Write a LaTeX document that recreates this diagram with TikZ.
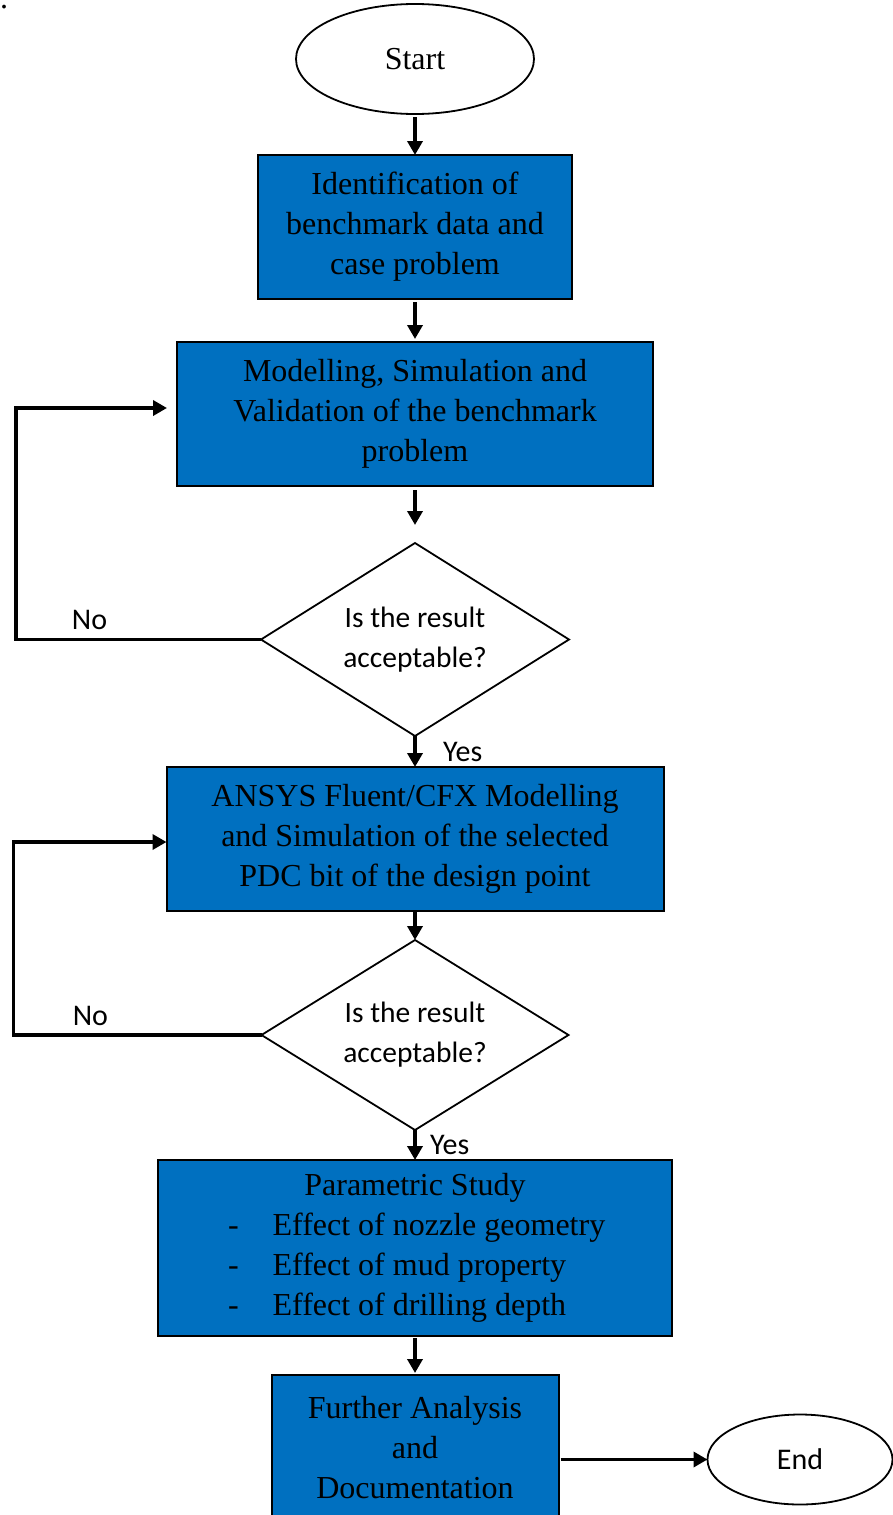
\documentclass[tikz,border=0pt]{standalone}
\usepackage{fontspec}
\setmainfont{Liberation Serif}
\newfontfamily\calibri{Carlito}
\usetikzlibrary{positioning,shapes.geometric,arrows.meta}
\definecolor{boxblue}{HTML}{0070C0}

\begin{document}
\begin{tikzpicture}[x=1pt,y=1pt,
    process/.style={draw=black, line width=2pt, fill=boxblue, align=center,
        inner sep=0pt, outer sep=0pt, font=\fontsize{32}{40}\selectfont},
    decision/.style={draw=black, line width=1.8pt, diamond, aspect=1.6, align=center,
        inner sep=0pt, outer sep=0pt, font=\calibri\fontsize{29.5}{40}\selectfont},
    terminal/.style={draw=black, line width=1.8pt, ellipse, inner sep=0pt, outer sep=0pt},
    flow/.style={line width=3.5pt, -{Triangle[width=15pt,length=14pt]}},
    answer/.style={font=\calibri\fontsize{30}{34}\selectfont}]

        \useasboundingbox (0,0) rectangle (892,-1515);

        % Define vertices
        \node[anchor=base west, inner sep=0pt, font=\fontsize{32}{40}\selectfont] (dot) at (0,-9) {.};
        \node[terminal, minimum width=238pt, minimum height=110pt, font=\fontsize{32}{40}\selectfont] (start) at (415,-59) {Start};
        \node[process, minimum width=314pt, minimum height=144pt, below=41pt of start] (ident) {Identification of\\benchmark data and\\case problem};
        \node[process, minimum width=476pt, minimum height=144pt, below=43pt of ident] (model) {Modelling, Simulation and\\Validation of the benchmark\\problem};
        \node[decision, minimum width=308pt, minimum height=193pt, below=57pt of model] (check1) {Is the result\\acceptable?};
        \node[process, minimum width=497pt, minimum height=144pt, below=31pt of check1] (ansys) {ANSYS Fluent/CFX Modelling\\and Simulation of the selected\\PDC bit of the design point};
        \node[decision, minimum width=307pt, minimum height=190pt, below=29pt of ansys] (check2) {Is the result\\acceptable?};
        \node[process, minimum width=514pt, minimum height=176pt, below=30pt of check2] (param) {Parametric Study\\
            \makebox[374pt][l]{-\hspace{34pt}Effect of nozzle geometry}\\
            \makebox[374pt][l]{-\hspace{34pt}Effect of mud property}\\
            \makebox[374pt][l]{-\hspace{34pt}Effect of drilling depth}};
        \node[process, minimum width=287pt, minimum height=145pt, below=39pt of param] (further) {Further Analysis\\and\\Documentation};
        \node[terminal, minimum width=185pt, minimum height=90pt, font=\calibri\fontsize{30}{36}\selectfont,
            right=149pt of further, yshift=-12pt] (end) {End};

        % Draw edges
        \draw[flow, shorten <=3pt] (start) -- (ident);
        \draw[flow, shorten <=3pt, shorten >=3pt] (ident) -- (model);
        \draw[flow, shorten <=4pt, shorten >=18pt] (model) -- (check1);
        \draw[flow] (check1) -- node[answer, right, xshift=23pt] {Yes} (ansys);
        \draw[flow] (ansys) -- (check2);
        \draw[flow] (check2) -- node[answer, right, xshift=10pt] {Yes} (param);
        \draw[flow, shorten <=2pt, shorten >=2pt] (param) -- (further);
        \draw[flow, shorten <=2pt] (further.east |- end.west) -- (end.west);
        \draw[flow, shorten >=10pt] (check1.west) -- ++(-245,0) node[answer, pos=0.7, above, yshift=5pt] {No}
            |- ([yshift=6pt]model.west);
        \draw[flow] (check2.west) -- ++(-248,0) node[answer, pos=0.69, above, yshift=4pt] {No}
            |- ([yshift=-3pt]ansys.west);

\end{tikzpicture}
\end{document}
